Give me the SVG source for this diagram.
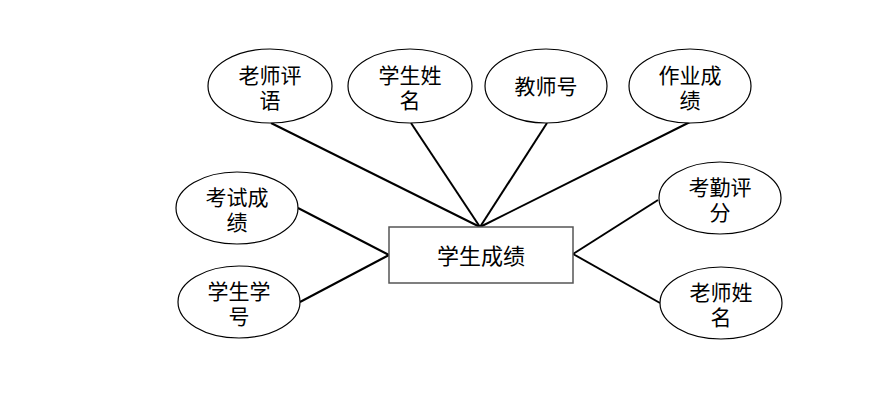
<svg xmlns="http://www.w3.org/2000/svg" width="885" height="407" viewBox="0 0 885 407">
<style>
.attr ellipse{fill:#fff;stroke:#000;stroke-width:1.2}
.ent rect{fill:#fff;stroke:#555;stroke-width:1.5}
text{font-family:"Noto Sans CJK SC","Liberation Sans",sans-serif;font-size:21px;fill:#000;text-anchor:middle;dominant-baseline:central}
.conn line{stroke:#000;stroke-width:2}
</style>
<rect width="885" height="407" fill="#fff"/>
<g id="connectors" class="conn">
<line x1="271" y1="123" x2="480" y2="227"/>
<line x1="411" y1="123" x2="480" y2="227"/>
<line x1="547" y1="123" x2="480" y2="227"/>
<line x1="690" y1="122" x2="480" y2="227"/>
<line x1="298" y1="208" x2="389" y2="255"/>
<line x1="300" y1="302" x2="389" y2="255"/>
<line x1="573" y1="254" x2="658" y2="200"/>
<line x1="573" y1="254" x2="660" y2="303"/>
</g>
<g id="n-laoshipingyu" class="attr"><ellipse cx="270" cy="86" rx="62" ry="37"/><text x="270" y="74">老师评<tspan x="270" dy="25">语</tspan></text></g>
<g id="n-xueshengxingming" class="attr"><ellipse cx="410" cy="86" rx="62" ry="37"/><text x="410" y="74">学生姓<tspan x="410" dy="25">名</tspan></text></g>
<g id="n-jiaoshihao" class="attr"><ellipse cx="546" cy="86" rx="61" ry="37"/><text x="546" y="85">教师号</text></g>
<g id="n-zuoyechengji" class="attr"><ellipse cx="690" cy="86" rx="61" ry="37"/><text x="690" y="74">作业成<tspan x="690" dy="25">绩</tspan></text></g>
<g id="n-kaoshichengji" class="attr"><ellipse cx="237" cy="208" rx="61" ry="36"/><text x="237" y="196">考试成<tspan x="237" dy="25">绩</tspan></text></g>
<g id="n-xueshengxuehao" class="attr"><ellipse cx="239" cy="302" rx="61" ry="36"/><text x="239" y="290">学生学<tspan x="239" dy="25">号</tspan></text></g>
<g id="n-kaoqinpingfen" class="attr"><ellipse cx="720" cy="198" rx="61" ry="36"/><text x="720" y="186">考勤评<tspan x="720" dy="25">分</tspan></text></g>
<g id="n-laoshixingming" class="attr"><ellipse cx="721" cy="303" rx="61" ry="36"/><text x="721" y="291">老师姓<tspan x="721" dy="25">名</tspan></text></g>
<g id="n-xueshengchengji" class="ent"><rect x="389" y="227" width="184" height="56"/><text x="481" y="254" style="font-size:22px">学生成绩</text></g>
</svg>
